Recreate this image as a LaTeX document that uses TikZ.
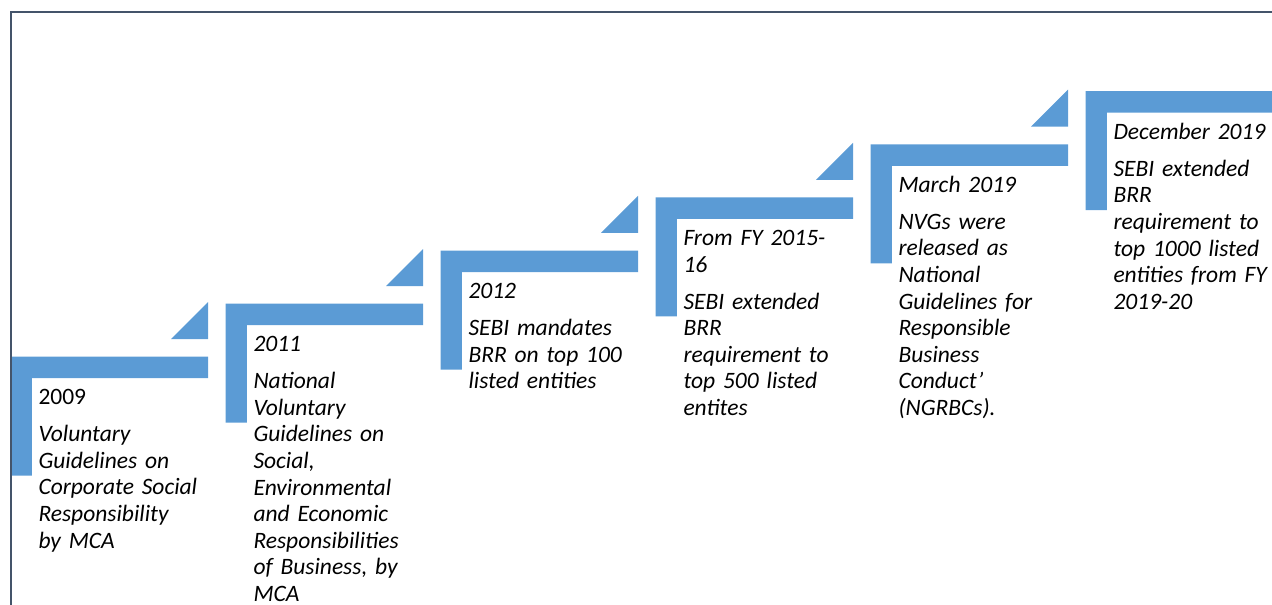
\documentclass[tikz,border=0pt]{standalone}
\usepackage{fontspec}
\setmainfont{Carlito}

\definecolor{stepblue}{HTML}{5B9BD5}
\definecolor{boxgray}{HTML}{44546A}

\newcommand{\eventfont}{\fontsize{23.5}{26.6}\selectfont\spaceskip=0.12em plus 0.05em\relax}

\tikzstyle{stair} = [fill=stepblue, draw=none]
\tikzstyle{boxline} = [draw=boxgray, line width=1.8pt]
\tikzstyle{event} = [anchor=base west, inner sep=0pt, text width=190pt, align=left, font=\eventfont]

\begin{document}
\begin{tikzpicture}[x=1pt,y=-1pt]
\path[use as bounding box, clip] (0,0) rectangle (1272,605);

% the steps, bottom left to top right
\fill[stair] (10.5,356.7) -- ++(197.5,0) -- ++(0,21.5) -- ++(-176.2,0) -- ++(0,97.5) -- ++(-21.3,0) -- cycle;
\fill[stair] (208,339.1) -- ++(-37,0) -- ++(37,-37) -- cycle;

\fill[stair] (225.5,303.6) -- ++(197.5,0) -- ++(0,21.5) -- ++(-176.2,0) -- ++(0,97.5) -- ++(-21.3,0) -- cycle;
\fill[stair] (423,286) -- ++(-37,0) -- ++(37,-37) -- cycle;

\fill[stair] (440.5,250.5) -- ++(197.5,0) -- ++(0,21.5) -- ++(-176.2,0) -- ++(0,97.5) -- ++(-21.3,0) -- cycle;
\fill[stair] (638,232.9) -- ++(-37,0) -- ++(37,-37) -- cycle;

\fill[stair] (655.5,197.4) -- ++(197.5,0) -- ++(0,21.5) -- ++(-176.2,0) -- ++(0,97.5) -- ++(-21.3,0) -- cycle;
\fill[stair] (853,179.8) -- ++(-37,0) -- ++(37,-37) -- cycle;

\fill[stair] (870.5,144.3) -- ++(197.5,0) -- ++(0,21.5) -- ++(-176.2,0) -- ++(0,97.5) -- ++(-21.3,0) -- cycle;
\fill[stair] (1068,126.7) -- ++(-37,0) -- ++(37,-37) -- cycle;

\fill[stair] (1085.5,91.2) -- ++(197.5,0) -- ++(0,21.5) -- ++(-176.2,0) -- ++(0,97.5) -- ++(-21.3,0) -- cycle;

\draw[boxline] (11,605) -- (11,11.7) -- (1272,11.7);

\node[event] (y2009) at (38.3,404.7) {2009\\[10.4pt]\itshape Voluntary\\Guidelines on\\Corporate Social\\Responsibility\\by MCA};
\node[event] (y2011) at (253.3,351.6) {\itshape 2011\\[10.4pt]National\\Voluntary\\Guidelines on\\Social,\\Environmental\\and Economic\\Responsibilities\\of Business, by\\MCA};
\node[event] (y2012) at (468.3,298.5) {\itshape 2012\\[10.4pt]SEBI mandates\\BRR on top 100\\listed entities};
\node[event] (fy2015) at (683.3,245.4) {\itshape From FY 2015-\\16\\[10.4pt]SEBI extended\\BRR\\requirement to\\top 500 listed\\entites};
\node[event] (mar2019) at (898.3,192.3) {\itshape March 2019\\[10.4pt]NVGs were\\released as\\National\\Guidelines for\\Responsible\\Business\\Conduct’\\(NGRBCs).};
\node[event] (dec2019) at (1113.3,139.2) {\itshape December 2019\\[10.4pt]SEBI extended\\BRR\\requirement to\\top 1000 listed\\entities from FY\\2019-20};

\end{tikzpicture}
\end{document}
